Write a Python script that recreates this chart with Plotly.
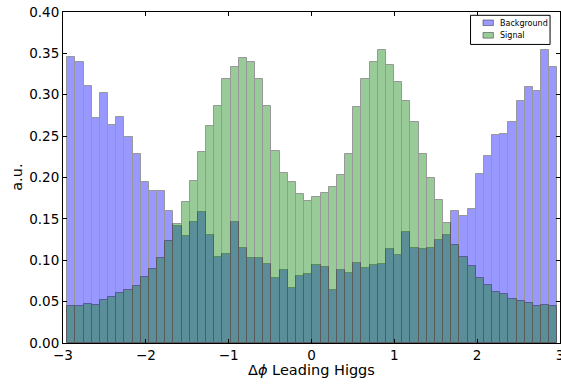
import numpy as np
import plotly.graph_objects as go

bin_start = -2.948
bin_width = 0.0986

background = [0.346,0.339,0.311,0.272,0.302,0.264,0.273,0.249,0.228,0.194,0.184,0.184,0.160,0.141,0.129,0.146,0.158,0.131,0.104,0.107,
              0.146,0.115,0.103,0.103,0.096,0.078,0.088,0.066,0.081,0.083,0.094,0.092,0.064,0.088,0.085,0.097,0.091,0.094,0.096,0.114,
              0.106,0.134,0.115,0.113,0.115,0.124,0.131,0.160,0.154,0.162,0.204,0.226,0.251,0.253,0.267,0.292,0.309,0.305,0.354,0.333]
signal = [0.045,0.045,0.047,0.046,0.052,0.056,0.060,0.064,0.069,0.080,0.089,0.103,0.123,0.144,0.170,0.196,0.231,0.262,0.287,0.319,
          0.334,0.344,0.340,0.319,0.287,0.232,0.206,0.194,0.180,0.172,0.176,0.181,0.189,0.203,0.229,0.285,0.319,0.339,0.354,0.336,
          0.316,0.292,0.267,0.229,0.199,0.173,0.145,0.119,0.104,0.093,0.078,0.070,0.062,0.059,0.053,0.051,0.048,0.045,0.046,0.045]
series_names = ["Background", "Signal"]
series_colors = ["blue", "green"]

xticks = [-3, -2, -1, 0, 1, 2, 3]
yticks = [0.00, 0.05, 0.10, 0.15, 0.20, 0.25, 0.30, 0.35, 0.40]
x_title = "Δ<i>ϕ</i> Leading Higgs"
y_title = "a.u."

n = len(background)
centers = bin_start + bin_width * (np.arange(n) + 0.5)

fig = go.Figure()
for vals, name, col in zip([background, signal], series_names, series_colors):
    fig.add_trace(go.Bar(x=centers, y=vals, width=bin_width, name=name,
                         marker=dict(color=col, line=dict(color="black", width=1)), opacity=0.4,
                         showlegend=False))

axis_common = dict(showline=True, linecolor="black", linewidth=1, mirror="allticks",
                   ticks="inside", ticklen=4, tickcolor="black", showgrid=False, zeroline=False,
                   tickfont=dict(size=13.5, color="black"), ticklabeloverflow="allow",
                   automargin=False)

# manual matplotlib-like legend (paper coordinates)
fig.add_shape(type="rect", xref="paper", yref="paper", x0=0.820, x1=0.980, y0=0.902, y1=0.990,
              line=dict(color="black", width=1), fillcolor="white", layer="above")
patch_fill = {"blue": "rgba(0,0,255,0.4)", "green": "rgba(0,128,0,0.4)"}
rows = [(0.959, 0.976, 0.966), (0.921, 0.938, 0.929)]
for (y0, y1, yt), name, col in zip(rows, series_names, series_colors):
    fig.add_shape(type="rect", xref="paper", yref="paper", x0=0.845, x1=0.866, y0=y0, y1=y1,
                  line=dict(color="rgba(0,0,0,0.4)", width=1), fillcolor=patch_fill[col], layer="above")
    fig.add_annotation(xref="paper", yref="paper", x=0.876, y=yt, xanchor="left", yanchor="middle",
                       text=name, showarrow=False, font=dict(size=8, color="black"))

# axis titles
fig.add_annotation(xref="paper", yref="paper", x=0.5, y=-0.083, xanchor="center", yanchor="middle",
                   text=x_title, showarrow=False, font=dict(size=14.5, color="black"))
fig.add_annotation(xref="paper", yref="paper", x=-0.094, y=0.5, xanchor="center", yanchor="middle",
                   text=y_title, showarrow=False, textangle=-90, font=dict(size=14.5, color="black"))

fig.update_layout(
    width=561, height=385,
    barmode="overlay", bargap=0,
    plot_bgcolor="white", paper_bgcolor="white",
    font=dict(family="DejaVu Sans", color="black"),
    margin=dict(l=63, r=1, t=12, b=42),
    showlegend=False,
    xaxis=dict(range=[-3, 3], tickvals=xticks, ticktext=[f"{v:d}".replace("-", "\u2212") for v in xticks],
               **axis_common),
    yaxis=dict(range=[0, 0.40], tickvals=yticks, ticktext=[f"{v:.2f}" for v in yticks],
               **axis_common),
)

fig.write_html("out.html")
